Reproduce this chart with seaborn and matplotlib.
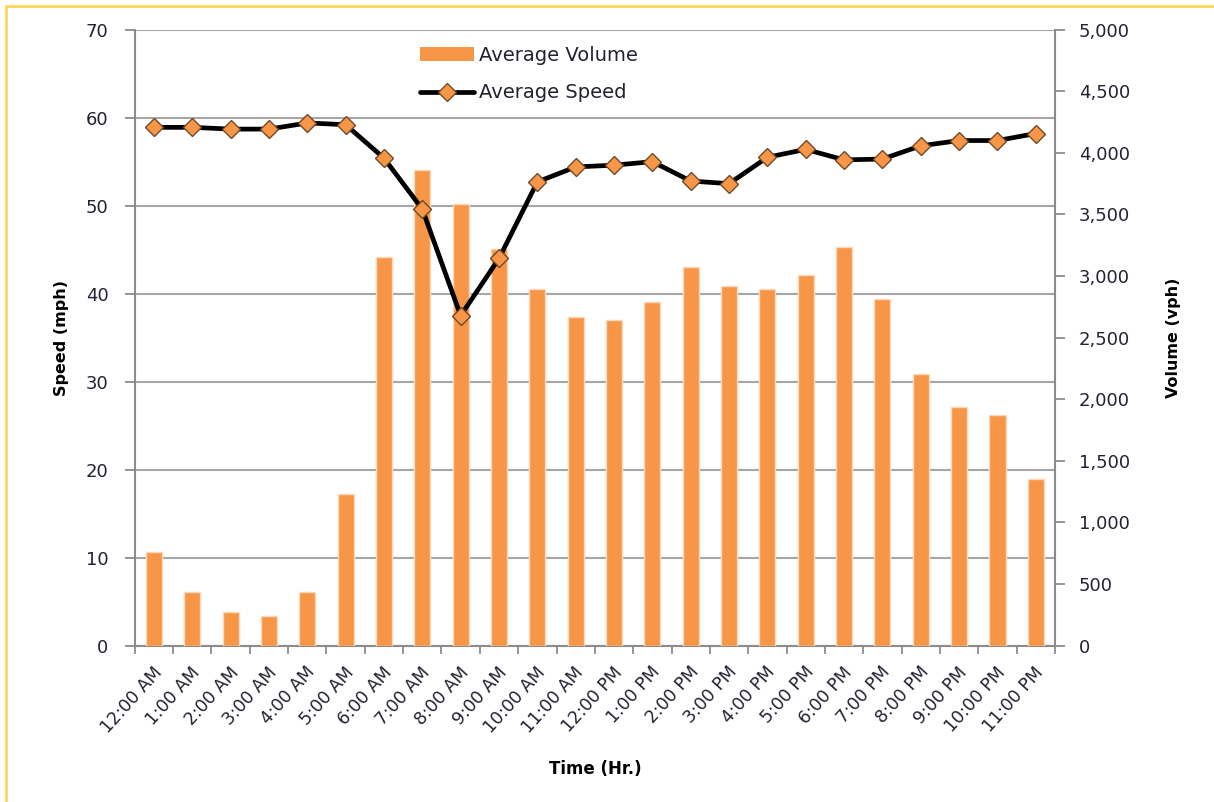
# Average hourly speed and volume chart
import numpy as np
import pandas as pd
import matplotlib.pyplot as plt
import matplotlib.transforms as mtransforms
import seaborn as sns
from matplotlib.lines import Line2D
from matplotlib.patches import Patch
from matplotlib.ticker import FuncFormatter

# data
hours = ['12:00 AM', '1:00 AM', '2:00 AM', '3:00 AM', '4:00 AM', '5:00 AM',
         '6:00 AM', '7:00 AM', '8:00 AM', '9:00 AM', '10:00 AM', '11:00 AM',
         '12:00 PM', '1:00 PM', '2:00 PM', '3:00 PM', '4:00 PM', '5:00 PM',
         '6:00 PM', '7:00 PM', '8:00 PM', '9:00 PM', '10:00 PM', '11:00 PM']
volume = [763, 433, 275, 237, 433, 1231, 3157, 3860, 3588, 3220, 2893, 2670,
          2645, 2790, 3076, 2921, 2896, 3011, 3234, 2817, 2202, 1937, 1872, 1349]
speed = [58.9, 58.9, 58.7, 58.7, 59.4, 59.2, 55.4, 49.6, 37.5, 44.0, 52.7, 54.4,
         54.6, 55.0, 52.8, 52.5, 55.5, 56.4, 55.2, 55.3, 56.8, 57.4, 57.4, 58.2]
speed_ticks = list(range(0, 71, 10))
volume_ticks = list(range(0, 5001, 500))

df = pd.DataFrame({'hour': hours, 'volume': volume, 'speed': speed})
df['pos'] = np.arange(len(df))

sns.set_style('white')
plt.rcParams['font.family'] = ['DejaVu Sans']

orange = '#F79646'
grey = '#8C8C8C'
text_c = '#222233'

fig, ax1 = plt.subplots(figsize=(12.14, 8.02), dpi=100)
fig.subplots_adjust(left=0.111, right=0.869, top=0.963, bottom=0.195)
ax2 = ax1.twinx()   # volume bars
ax3 = ax1.twinx()   # speed line on top

# bars
sns.barplot(data=df, x='hour', y='volume', ax=ax2, color=orange, saturation=1,
            width=0.42, edgecolor='#FCD9BC', linewidth=1)
# line
sns.lineplot(data=df, x='pos', y='speed', ax=ax3, color='black', lw=3.4,
             marker='D', markersize=9, markerfacecolor=orange,
             markeredgecolor='#6E4A2A', markeredgewidth=1)

ax1.set_xlim(-0.5, 23.5)
ax1.set_ylim(0, 70)
ax2.set_ylim(0, 5000)
ax3.set_ylim(0, 70)
ax3.axis('off')

# left axis
ax1.set_yticks(speed_ticks)
ax1.yaxis.grid(True, color='#A6A6A6', lw=1.5)
ax1.set_axisbelow(True)
ax1.tick_params(axis='y', direction='out', length=7, width=1.3, color=grey,
                pad=12, labelsize=13, labelcolor=text_c, left=True)
for s in ['top', 'right']:
    ax1.spines[s].set_visible(False)
for s in ['left', 'bottom']:
    ax1.spines[s].set_color(grey)
    ax1.spines[s].set_linewidth(1.5)

# right axis
ax2.set_yticks(volume_ticks)
ax2.yaxis.set_major_formatter(FuncFormatter(lambda v, p: f'{int(v):,}'))
ax2.tick_params(axis='y', direction='out', length=7, width=1.3, color=grey,
                pad=10, labelsize=13, labelcolor=text_c, right=True)
for s in ['top', 'left', 'bottom']:
    ax2.spines[s].set_visible(False)
ax2.spines['right'].set_color(grey)
ax2.spines['right'].set_linewidth(1.5)
ax2.set_xlabel('')

# x axis: labels at centres, tick marks between categories
ax1.set_xticks(df['pos'])
ax1.set_xticklabels(hours, rotation=48, ha='right', va='center',
                    rotation_mode='anchor')
ax1.set_xticks(np.arange(-0.5, 24, 1), minor=True)
ax1.tick_params(axis='x', which='major', length=0, pad=17, labelsize=12.5,
                labelcolor=text_c)
ax1.tick_params(axis='x', which='minor', direction='out', length=6, width=1.3,
                color=grey, bottom=True)
shift = mtransforms.ScaledTranslation(0.05, 0, fig.dpi_scale_trans)
for lab in ax1.get_xticklabels():
    lab.set_transform(lab.get_transform() + shift)

ax1.set_xlabel('Time (Hr.)', fontsize=12, fontweight='bold', color='black')
ax1.xaxis.set_label_coords(0.5, -0.186)
ax1.set_ylabel('Speed (mph)', fontsize=11.5, fontweight='bold', color='black')
ax1.yaxis.set_label_coords(-0.071, 0.5)
ax2.set_ylabel('Volume (vph)', fontsize=11.5, fontweight='bold', color='black')
ax2.yaxis.set_label_coords(1.121, 0.5)

# legend
handles = [Patch(facecolor=orange, edgecolor='none'),
           Line2D([0], [0], color='black', lw=3.4, marker='D', markersize=9,
                  markerfacecolor=orange, markeredgecolor='#6E4A2A')]
fig.legend(handles, ['Average Volume', 'Average Speed'], loc='upper left',
           bbox_to_anchor=(420 / 1214, 1 - 46 / 802), frameon=False,
           fontsize=14, handlelength=2.8, handletextpad=0.25,
           labelspacing=0.95, borderpad=0, borderaxespad=0,
           labelcolor=text_c)

# gold frame on left and top edge
fig.add_artist(Line2D([6 / 1214, 6 / 1214], [0, 1 - 6 / 802],
                      transform=fig.transFigure, color='#FFD55A', lw=2))
fig.add_artist(Line2D([6 / 1214, 1], [1 - 6 / 802, 1 - 6 / 802],
                      transform=fig.transFigure, color='#FFD55A', lw=2))

fig.savefig('out.png', dpi=100)
